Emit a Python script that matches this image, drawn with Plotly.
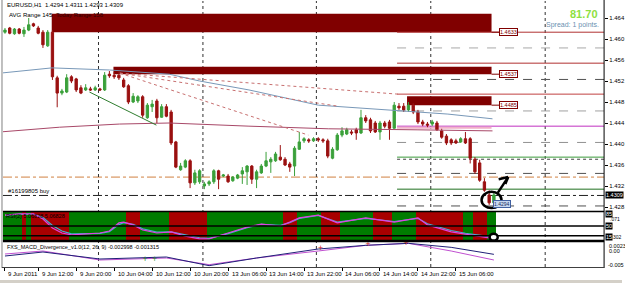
import plotly.graph_objects as go

W, H = 625, 283

# ---------------- data ----------------
opens = [1.4613,1.4621,1.4610,1.4619,1.4610,1.4617,1.4629,1.4621,1.4613,1.4587,
         1.4613,1.4526,1.4497,1.4499,1.4528,1.4524,1.4507,1.4503,1.4505,1.4503,
         1.4505,1.4503,1.4533,1.4531,1.4531,1.4522,1.4511,1.4480,1.4482,1.4490,
         1.4450,1.4471,1.4482,1.4451,1.4471,1.4461,1.4404,1.4351,1.4356,1.4368,
         1.4326,1.4328,1.4320,1.4324,1.4328,1.4349,1.4339,1.4339,1.4330,1.4335,
         1.4343,1.4347,1.4358,1.4333,1.4345,1.4358,1.4366,1.4368,1.4375,1.4371,
         1.4362,1.4358,1.4390,1.4406,1.4408,1.4406,1.4410,1.4408,1.4406,1.4373,
         1.4389,1.4417,1.4419,1.4423,1.4427,1.4421,1.4450,1.4446,1.4440,1.4423,
         1.4440,1.4442,1.4430,1.4472,1.4472,1.4465,1.4474,1.4461,1.4442,1.4438,
         1.4438,1.4440,1.4425,1.4415,1.4408,1.4406,1.4404,1.4410,1.4410,1.4371,
         1.4364,1.4328,1.4303,1.4288]
highs = [1.4621,1.4623,1.4621,1.4621,1.4623,1.4640,1.4631,1.4625,1.4617,1.4617,
         1.4617,1.4530,1.4505,1.4533,1.4531,1.4526,1.4512,1.4514,1.4509,1.4511,
         1.4507,1.4537,1.4539,1.4537,1.4537,1.4526,1.4514,1.4497,1.4493,1.4493,
         1.4478,1.4484,1.4486,1.4476,1.4476,1.4465,1.4406,1.4364,1.4371,1.4371,
         1.4351,1.4352,1.4328,1.4331,1.4352,1.4351,1.4343,1.4343,1.4339,1.4343,
         1.4356,1.4360,1.4360,1.4351,1.4362,1.4385,1.4375,1.4385,1.4398,1.4375,
         1.4366,1.4396,1.4423,1.4413,1.4411,1.4413,1.4413,1.4411,1.4410,1.4394,
         1.4421,1.4432,1.4431,1.4427,1.4431,1.4465,1.4455,1.4450,1.4444,1.4444,
         1.4444,1.4446,1.4480,1.4478,1.4478,1.4480,1.4478,1.4465,1.4446,1.4442,
         1.4446,1.4444,1.4429,1.4419,1.4411,1.4410,1.4413,1.4423,1.4413,1.4375,
         1.4370,1.4335,1.4312,1.4307]
lows = [1.4610,1.4609,1.4608,1.4609,1.4604,1.4615,1.4623,1.4609,1.4583,1.4585,
        1.4522,1.4470,1.4493,1.4497,1.4516,1.4499,1.4495,1.4501,1.4501,1.4501,
        1.4501,1.4501,1.4526,1.4524,1.4522,1.4507,1.4476,1.4478,1.4478,1.4450,
        1.4448,1.4461,1.4440,1.4450,1.4451,1.4398,1.4354,1.4349,1.4354,1.4316,
        1.4322,1.4324,1.4314,1.4320,1.4324,1.4314,1.4337,1.4326,1.4328,1.4333,
        1.4324,1.4322,1.4324,1.4316,1.4343,1.4356,1.4345,1.4366,1.4368,1.4358,
        1.4347,1.4339,1.4389,1.4402,1.4402,1.4404,1.4404,1.4402,1.4373,1.4371,
        1.4387,1.4413,1.4417,1.4417,1.4408,1.4419,1.4440,1.4421,1.4421,1.4408,
        1.4430,1.4408,1.4429,1.4465,1.4461,1.4461,1.4457,1.4438,1.4434,1.4432,
        1.4434,1.4425,1.4410,1.4398,1.4398,1.4400,1.4402,1.4400,1.4363,1.4343,
        1.4328,1.4309,1.4284,1.4286]
closes = [1.4617,1.4611,1.4619,1.4611,1.4617,1.4627,1.4625,1.4611,1.4589,1.4613,
          1.4528,1.4497,1.4501,1.4526,1.4520,1.4503,1.4497,1.4507,1.4503,1.4507,
          1.4503,1.4531,1.4530,1.4528,1.4526,1.4509,1.4480,1.4491,1.4490,1.4455,
          1.4474,1.4476,1.4450,1.4471,1.4453,1.4402,1.4356,1.4358,1.4368,1.4326,
          1.4345,1.4349,1.4324,1.4328,1.4349,1.4333,1.4341,1.4328,1.4337,1.4341,
          1.4349,1.4358,1.4333,1.4347,1.4358,1.4368,1.4371,1.4381,1.4370,1.4360,
          1.4356,1.4392,1.4404,1.4410,1.4406,1.4410,1.4408,1.4406,1.4377,1.4390,
          1.4417,1.4425,1.4427,1.4421,1.4421,1.4450,1.4444,1.4425,1.4423,1.4440,
          1.4434,1.4430,1.4474,1.4469,1.4465,1.4474,1.4461,1.4442,1.4438,1.4436,
          1.4442,1.4427,1.4413,1.4402,1.4402,1.4402,1.4410,1.4402,1.4373,1.4347,
          1.4331,1.4312,1.4288,1.4303]
bars = list(range(len(opens)))

# x-axis labels (bar index, text)
xlabel_bars = [0, 7, 15, 23, 31, 39, 47, 55, 63, 71, 79, 87, 95]
xlabel_text = ["9 Jun 2011", "9 Jun 12:00", "9 Jun 20:00", "10 Jun 04:00", "10 Jun 12:00",
               "10 Jun 20:00", "13 Jun 06:00", "13 Jun 14:00", "13 Jun 22:00",
               "14 Jun 06:00", "14 Jun 14:00", "14 Jun 22:00", "15 Jun 06:00"]
day_grid_bars = [19.7, 41.7, 65.6, 89.7, 113.8]

price_ticks = [1.428, 1.432, 1.436, 1.440, 1.444, 1.448, 1.452, 1.456, 1.460, 1.464]

# moving averages (bar, price)
ma_blue_x = [-1.0, 9.9, 22.0, 34.6, 41.0, 51.4, 66.0, 82.8, 93.3, 102.7]
ma_blue_y = [1.4535, 1.4545, 1.4541, 1.4533, 1.4520, 1.4503, 1.4474, 1.4463, 1.4457, 1.4448]
ma_red_x = [-1.0, 11.5, 24.1, 34.6, 51.4, 68.1, 87.0, 102.7]
ma_red_y = [1.4423, 1.4432, 1.4438, 1.4440, 1.4434, 1.4429, 1.4427, 1.4425]

# supply zones (bar start, bar end, low, high)
zones = [(9.85, 102.5, 1.4613, 1.4648), (22.85, 102.5, 1.4533, 1.4547), (84.7, 102.5, 1.4474, 1.4491)]
zone_labels = ["1.4633", "1.4537", "1.4485"]

# level lines starting at day pivot (price, colour, dash)
levels = [(1.4613, "#b03030", "solid"), (1.4583, "#a8a8a8", "dash"), (1.4554, "#b03030", "solid"),
          (1.4523, "#505050", "dash"), (1.4495, "#c04040", "solid"), (1.4463, "#a0a0a0", "dash"),
          (1.4434, "#c030c0", "solid"), (1.4403, "#909090", "dash"), (1.4375, "#3a9a3a", "solid"),
          (1.4371, "#404040", "dot"), (1.4344, "#505050", "dash"), (1.4314, "#1f6f1f", "solid"),
          (1.4282, "#505050", "dash")]

# RSI zones and lines
zone_runs = [("G", 4), ("R", 1), ("G", 1), ("R", 8), ("G", 12), ("R", 3), ("G", 6), ("R", 8),
             ("G", 16), ("R", 3), ("G", 5), ("R", 4), ("G", 7), ("R", 4), ("G", 5), ("R", 10),
             ("G", 2), ("R", 3), ("G", 2)]
rsi_x = [0, 3, 6, 8, 10, 12, 14, 20, 22, 24, 25, 27, 29, 32, 35, 38, 41, 43, 47, 51, 54, 58,
         60, 62, 66, 70, 76, 82, 87, 89, 94, 97, 102, 103]
rsi_a = [89, 93, 93, 75, 43, 25, 18, 25, 32, 61, 64, 54, 36, 25, 29, 14, 4, 4, 25, 46, 57, 50,
         64, 79, 89, 61, 79, 64, 79, 54, 29, 21, 7, 5]
rsi_b = [89, 92, 92, 80, 52, 32, 22, 24, 30, 55, 62, 56, 40, 28, 29, 18, 8, 6, 23, 44, 56, 52,
         62, 77, 88, 64, 77, 66, 77, 58, 34, 24, 12, 10]

# MACD lines
macd_x = [0, 8, 20, 34, 43, 53, 66, 76, 85, 94, 103]
macd_main = [-0.0018, -0.0006, -0.0027, -0.0021, -0.0047, -0.0024, 0.0003, 0.0014, 0.0020, 0.0008, -0.0013]
macd_sig = [-0.0012, -0.0003, -0.0030, -0.0024, -0.0044, -0.0024, -0.0003, 0.0014, 0.0020, -0.0003, -0.0030]

# ---------------- layout helpers ----------------
def yp(pix):
    return 1 - pix / H

X0, X1 = -0.419, 126.21
main_dom = [yp(211), yp(1)]
rsi_dom = [yp(240), yp(212)]
macd_dom = [yp(267), yp(242)]

fig = go.Figure()

# RSI background zones
zone_cols = []
for c, n in zone_runs:
    zone_cols += ["#a80000" if c == "R" else "#007c00"] * n
fig.add_trace(go.Bar(x=bars, y=[100] * len(bars), marker=dict(color=zone_cols, line=dict(width=0)),
                     width=1, yaxis="y2", hoverinfo="skip", showlegend=False))

fig.add_trace(go.Scatter(x=rsi_x, y=rsi_b, mode="lines", line=dict(color="#40b0d0", width=1.2),
                         yaxis="y2", showlegend=False))
fig.add_trace(go.Scatter(x=rsi_x, y=rsi_a, mode="lines", line=dict(color="#e040e0", width=1.2),
                         yaxis="y2", showlegend=False))

# MACD
fig.add_trace(go.Scatter(x=macd_x, y=macd_sig, mode="lines", line=dict(color="#c050d0", width=1),
                         yaxis="y3", showlegend=False))
fig.add_trace(go.Scatter(x=macd_x, y=macd_main, mode="lines", line=dict(color="#202078", width=1),
                         yaxis="y3", showlegend=False))
fig.add_trace(go.Scatter(x=[29.5, 31.5], y=[-0.0030, -0.0030], mode="text", text=["+", "+"],
                         textfont=dict(color="#2a8a2a", size=9), yaxis="y3", showlegend=False))
fig.add_trace(go.Scatter(x=[66.5, 76.5, 84.5], y=[0.0005, 0.0016, 0.0020], mode="text",
                         text=["+", "+", "+"], textfont=dict(color="#d02020", size=9),
                         yaxis="y3", showlegend=False))

# moving averages and trend lines on main
fig.add_trace(go.Scatter(x=ma_red_x, y=ma_red_y, mode="lines", line=dict(color="#a84868", width=1),
                         showlegend=False))
fig.add_trace(go.Scatter(x=ma_blue_x, y=ma_blue_y, mode="lines", line=dict(color="#7898b8", width=1),
                         showlegend=False))
fig.add_trace(go.Scatter(x=[17.8, 31.9], y=[1.4499, 1.4436], mode="lines",
                         line=dict(color="#2e7d2e", width=1), showlegend=False))
for xe, ye in [(82.8, 1.4495), (70.2, 1.4472), (63.9, 1.4417)]:
    fig.add_trace(go.Scatter(x=[24.2, xe], y=[1.4535, ye], mode="lines",
                             line=dict(color="#c87070", width=1, dash="dot"), showlegend=False))

fig.add_trace(go.Candlestick(x=bars, open=opens, high=highs, low=lows, close=closes,
                             increasing=dict(line=dict(color="#3aa03a", width=1), fillcolor="#3aa03a"),
                             decreasing=dict(line=dict(color="#9a1010", width=1), fillcolor="#9a1010"),
                             whiskerwidth=0, showlegend=False, hoverinfo="skip"))

shapes = []
annots = []
F = "Liberation Sans"
# zones
for (a, b, lo, hi), lab in zip(zones, zone_labels):
    shapes.append(dict(type="rect", xref="x", yref="y", x0=a, x1=b, y0=lo, y1=hi,
                       fillcolor="#800000", line=dict(width=0), layer="below"))
    shapes.append(dict(type="line", xref="x", yref="y", x0=b, x1=b + 1.6, y0=lo, y1=lo,
                       line=dict(color="#800000", width=1)))
    annots.append(dict(x=b + 1.6, y=lo, xref="x", yref="y", text=lab, showarrow=False,
                       xanchor="left", yanchor="middle", font=dict(size=5.5, color="#800000",
                       family=F), bgcolor="white", bordercolor="#800000",
                       borderwidth=1, borderpad=0))
# levels
for pr, col, dash in levels:
    shapes.append(dict(type="line", xref="x", yref="y", x0=82.6, x1=X1, y0=pr, y1=pr,
                       line=dict(color=col, width=1, dash=dash), layer="below"))
shapes.append(dict(type="line", xref="x", yref="y", x0=82.6, x1=102.5, y0=1.4431, y1=1.4431,
                   line=dict(color="#f0b0c8", width=2), layer="below"))
# full width lines
shapes.append(dict(type="line", xref="paper", yref="y", x0=3 / W, x1=607 / W, y0=1.4337, y1=1.4337,
                   line=dict(color="#d08040", width=1, dash="dashdot"), layer="below"))
shapes.append(dict(type="line", xref="paper", yref="y", x0=3 / W, x1=607 / W, y0=1.4302, y1=1.4302,
                   line=dict(color="#202020", width=1, dash="dashdot"), layer="below"))
# day grid
for gx in day_grid_bars:
    shapes.append(dict(type="line", xref="x", yref="paper", x0=gx, x1=gx, y0=macd_dom[0], y1=main_dom[1],
                       line=dict(color="#303030", width=1, dash="dot"), layer="below"))
# RSI levels / borders
for lv in [50, 15]:
    shapes.append(dict(type="line", xref="paper", yref="y2", x0=3 / W, x1=607 / W, y0=lv, y1=lv,
                       line=dict(color="black", width=1.5)))
for pix in [211.5, 240.5, 241.5]:
    shapes.append(dict(type="line", xref="paper", yref="paper", x0=3 / W, x1=607 / W,
                       y0=yp(pix), y1=yp(pix), line=dict(color="black", width=1.5)))
# frame
shapes.append(dict(type="line", xref="paper", yref="paper", x0=2 / W, x1=2 / W, y0=yp(268), y1=1,
                   line=dict(color="#808080", width=1)))
shapes.append(dict(type="line", xref="paper", yref="paper", x0=607 / W, x1=607 / W, y0=yp(268), y1=1,
                   line=dict(color="black", width=1)))
shapes.append(dict(type="line", xref="paper", yref="paper", x0=2 / W, x1=607 / W, y0=yp(267.5), y1=yp(267.5),
                   line=dict(color="#404040", width=1)))
shapes.append(dict(type="rect", xref="paper", yref="paper", x0=0, x1=1, y0=0, y1=yp(280),
                   fillcolor="#d4d0c8", line=dict(width=0)))
# circle + arrow
shapes.append(dict(type="circle", xref="x", yref="y", x0=100.4, x1=104.6, y0=1.4278, y1=1.4309,
                   line=dict(color="black", width=2.5)))
shapes.append(dict(type="line", xref="x", yref="y", x0=103.8, x1=106.0, y0=1.4307, y1=1.4337,
                   line=dict(color="black", width=2.5)))
shapes.append(dict(type="line", xref="x", yref="y", x0=104.0, x1=106.0, y0=1.4333, y1=1.4337,
                   line=dict(color="black", width=2.5)))
shapes.append(dict(type="line", xref="x", yref="y", x0=105.4, x1=106.0, y0=1.4324, y1=1.4337,
                   line=dict(color="black", width=2.5)))
shapes.append(dict(type="circle", xref="x", yref="y2", x0=102.1, x1=103.8, y0=-2, y1=22,
                   line=dict(color="black", width=2.5), fillcolor="white"))

# x labels
for b, t in zip(xlabel_bars, xlabel_text):
    annots.append(dict(x=b + 0.3, y=yp(274), xref="x", yref="paper", text=t, showarrow=False,
                       xanchor="left", yanchor="middle", font=dict(size=6, color="black", family=F)))
# texts
small = dict(size=5.5, color="black", family=F)
texts = [
    dict(x=5 / W, y=yp(4.5), text="EURUSD,H1  1.4294 1.4311 1.4293 1.4309"),
    dict(x=7 / W, y=yp(14.5), text="AVG Range 145"),
    dict(x=54 / W, y=yp(14.5), text="Today Range 158", font=dict(size=6, color="#300000", family=F)),
    dict(x=6 / W, y=yp(191), text="#16199805 buy"),
    dict(x=4 / W, y=yp(216), text="RSI(2) 5.06828 5.06828", font=small),
    dict(x=5 / W, y=yp(246.5), text="FXS_MACD_Divergence_v1.0(12, 26, 9) -0.002998 -0.001315", font=small),
    dict(x=571 / W, y=yp(14), text="<b>81.70</b>", font=dict(size=11, color="#8ee040", family=F)),
    dict(x=547 / W, y=yp(25.5), text="Spread: 1 points.", font=dict(size=7, color="#6a8fb0", family=F)),
    dict(x=610 / W, y=yp(246), text="0.0023", font=small),
    dict(x=610 / W, y=yp(250.5), text="0.00", font=small),
    dict(x=609 / W, y=yp(265), text="-0.005", font=small),
    dict(x=611 / W, y=yp(218.5), text=".071", font=dict(size=5, color="black", family=F)),
    dict(x=614 / W, y=yp(236.5), text="302", font=dict(size=5, color="black", family=F)),
]
for a in texts:
    a.setdefault("xref", "paper")
    a.setdefault("yref", "paper")
    a.setdefault("showarrow", False)
    a.setdefault("xanchor", "left")
    a.setdefault("yanchor", "middle")
    a.setdefault("font", dict(size=6, color="black", family=F))
annots += texts
for lab, pix in [("85", 214.5), ("50", 225.5), ("15", 236.5)]:
    annots.append(dict(x=608 / W, y=yp(pix), xref="paper", yref="paper", text=lab, showarrow=False,
                       xanchor="left", yanchor="middle", bgcolor="black",
                       font=dict(size=5.5, color="white", family=F), borderpad=0))
annots.append(dict(x=608 / W, y=1.4302, xref="paper", yref="y", text="1.4309", showarrow=False,
                   xanchor="left", yanchor="middle", bgcolor="black",
                   font=dict(size=5.5, color="white", family=F), borderpad=0))
annots.append(dict(x=102.8, y=1.4286, xref="x", yref="y", text="1.4294", showarrow=False,
                   xanchor="left", yanchor="middle", bgcolor="#c8d8f0", bordercolor="#4060a0",
                   borderwidth=1, font=dict(size=5, color="#203060", family=F), borderpad=0))

fig.update_layout(
    width=W, height=H, margin=dict(l=0, r=0, t=0, b=0),
    paper_bgcolor="white", plot_bgcolor="white", bargap=0, showlegend=False,
    xaxis=dict(domain=[3 / W, 607 / W], range=[X0, X1], anchor="y3", showgrid=False, zeroline=False,
               showticklabels=False, ticks="outside", ticklen=3, tickcolor="black",
               tickvals=xlabel_bars, rangeslider=dict(visible=False), showline=False),
    yaxis=dict(domain=main_dom, range=[1.42724, 1.46724], side="right", anchor="x",
               tickvals=price_ticks, ticktext=[f"{v:.3f}" for v in price_ticks],
               ticks="outside", ticklen=3, tickcolor="black", showgrid=False, zeroline=False,
               tickfont=dict(size=6, color="black", family=F), showline=False),
    yaxis2=dict(domain=rsi_dom, range=[0, 100], anchor="x", showticklabels=False, showgrid=False,
                zeroline=False),
    yaxis3=dict(domain=macd_dom, range=[-0.0051, 0.0024], anchor="x", showticklabels=False,
                showgrid=False, zeroline=False),
    shapes=shapes, annotations=annots,
)
fig.write_html("out.html")
